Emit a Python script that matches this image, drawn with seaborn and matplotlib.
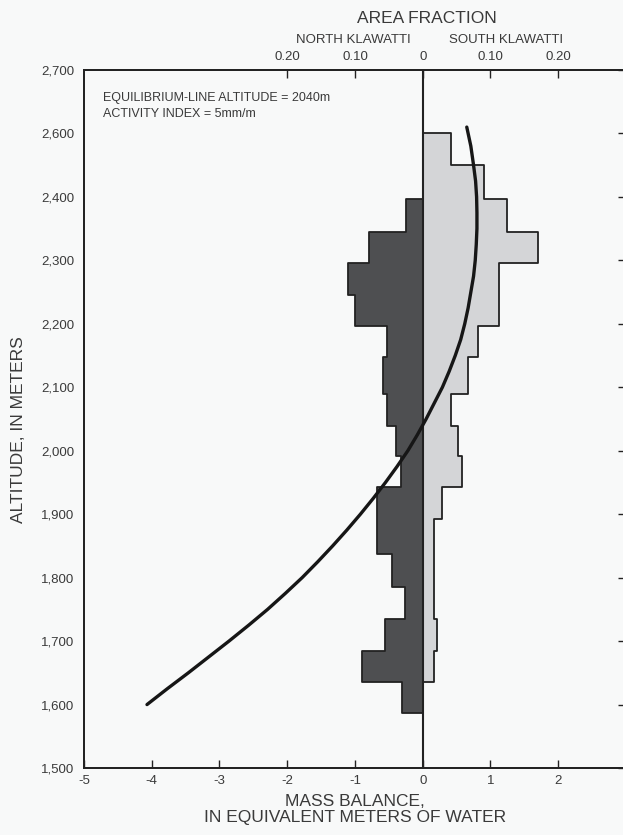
import matplotlib
matplotlib.use("Agg")
import matplotlib.pyplot as plt
import seaborn as sns

# altitude bin edges (m) of the area histograms
bin_edges = [1587, 1635, 1685, 1735, 1786, 1838, 1892, 1943, 1991, 2039,
             2090, 2148, 2197, 2245, 2296, 2345, 2396, 2450, 2500]

# area fraction per bin, bottom to top
north_frac = [0.031, 0.089, 0.056, 0.026, 0.046, 0.068, 0.068, 0.032, 0.039,
              0.053, 0.059, 0.053, 0.100, 0.110, 0.080, 0.025, 0.0, 0.0]
south_frac = [0.0, 0.016, 0.021, 0.016, 0.016, 0.016, 0.029, 0.058, 0.052,
              0.042, 0.067, 0.082, 0.112, 0.112, 0.170, 0.124, 0.090, 0.041]

# mass balance curve (m w.e.) against altitude (m)
curve_alt = [1600, 1625, 1650, 1675, 1700, 1725, 1750, 1775, 1800, 1825,
             1850, 1875, 1900, 1925, 1950, 1975, 2000, 2025, 2050, 2075,
             2100, 2125, 2150, 2175, 2200, 2225, 2250, 2275, 2300, 2325,
             2350, 2375, 2400, 2425, 2450, 2480, 2510]
curve_balance = [-4.07, -3.77, -3.46, -3.16, -2.86, -2.57, -2.29, -2.03, -1.78, -1.55,
                 -1.33, -1.12, -0.92, -0.73, -0.55, -0.38, -0.22, -0.08, 0.05, 0.17,
                 0.29, 0.39, 0.48, 0.56, 0.62, 0.67, 0.71, 0.75, 0.775, 0.79,
                 0.80, 0.80, 0.795, 0.78, 0.75, 0.71, 0.65]

alt_ticks = [1500, 1600, 1700, 1800, 1900, 2000, 2100, 2200, 2300, 2400, 2500, 2600]
alt_labels = ["1,500", "1,600", "1,700", "1,800", "1,900", "2,000", "2,100",
              "2,200", "2,300", "2,400", "2,600", "2,700"]
mb_ticks = [-5, -4, -3, -2, -1, 0, 1, 2, 3]
frac_ticks = [-0.2, -0.1, 0, 0.1, 0.2]
frac_labels = ["0.20", "0.10", "0", "0.10", "0.20"]

paper = "#f8f9f9"
ink = "#222222"
txt = "#3a3a3a"
dark = "#4e4f51"
light = "#d4d5d7"

sns.set_style("white")
plt.rcParams["font.family"] = ["Liberation Sans", "DejaVu Sans"]

fig = plt.figure(figsize=(6.23, 8.35), dpi=100, facecolor=paper)
ax = fig.add_axes([0.1348, 0.0802, 0.8700, 0.8360])
ax2 = ax.twiny()
ax.set_zorder(2)
ax2.set_zorder(1)
ax.patch.set_visible(False)
ax2.patch.set_visible(False)

mids = [(bin_edges[i] + bin_edges[i + 1]) / 2 for i in range(len(bin_edges) - 1)]

# north to the left, south to the right of the zero line
sns.histplot(y=mids, weights=[-f for f in north_frac], bins=bin_edges,
             element="step", fill=True, color=dark, alpha=1,
             edgecolor=ink, linewidth=1.3, ax=ax2)
sns.histplot(y=mids, weights=south_frac, bins=bin_edges,
             element="step", fill=True, color=light, alpha=1,
             edgecolor=ink, linewidth=1.3, ax=ax2)

ax.axvline(0, color=ink, lw=1.5)
sns.lineplot(x=curve_balance, y=curve_alt, orient="y", estimator=None,
             color="#161616", lw=2.4, ax=ax)

ax.set_xlim(-5, 3)
ax.set_ylim(1500, 2600)
ax2.set_xlim(-0.5, 0.3)

ax.set_yticks(alt_ticks)
ax.set_yticklabels(alt_labels)
ax.set_xticks(mb_ticks)
ax.set_xticklabels([str(t) for t in mb_ticks])
ax.tick_params(axis="both", direction="in", length=6, width=1, color=ink,
               labelsize=9.5, labelcolor=txt, right=True, top=False)
ax.tick_params(axis="y", pad=7)
ax.tick_params(axis="x", pad=5)

ax2.set_xticks(frac_ticks)
ax2.set_xticklabels(frac_labels)
ax2.tick_params(axis="x", direction="in", length=6, width=1, color=ink,
                labelsize=9.5, labelcolor=txt, pad=5)
ax2.set_xlabel("")
ax2.set_ylabel("")

for a in (ax, ax2):
    for s in a.spines.values():
        s.set_color(ink)
        s.set_linewidth(1.3)

ax.set_xlabel("MASS BALANCE,\nIN EQUIVALENT METERS OF WATER", fontsize=12.5,
              color=txt, labelpad=5, linespacing=1.1)
ax.set_ylabel("")
fig.text(0.029, 0.485, "ALTITUDE, IN METERS", rotation=90, ha="center", va="center",
         fontsize=12.5, color=txt)

fig.text(0.685, 0.978, "AREA FRACTION", ha="center", va="center", fontsize=12.5, color=txt)
fig.text(0.567, 0.952, "NORTH KLAWATTI", ha="center", va="center", fontsize=9.5, color=txt)
fig.text(0.812, 0.952, "SOUTH KLAWATTI", ha="center", va="center", fontsize=9.5, color=txt)

ax.text(0.035, 0.968, "EQUILIBRIUM-LINE ALTITUDE = 2040m\nACTIVITY INDEX = 5mm/m",
        transform=ax.transAxes, ha="left", va="top", fontsize=9, color=txt,
        linespacing=1.4)

fig.savefig("out.png", dpi=100, facecolor=paper)
